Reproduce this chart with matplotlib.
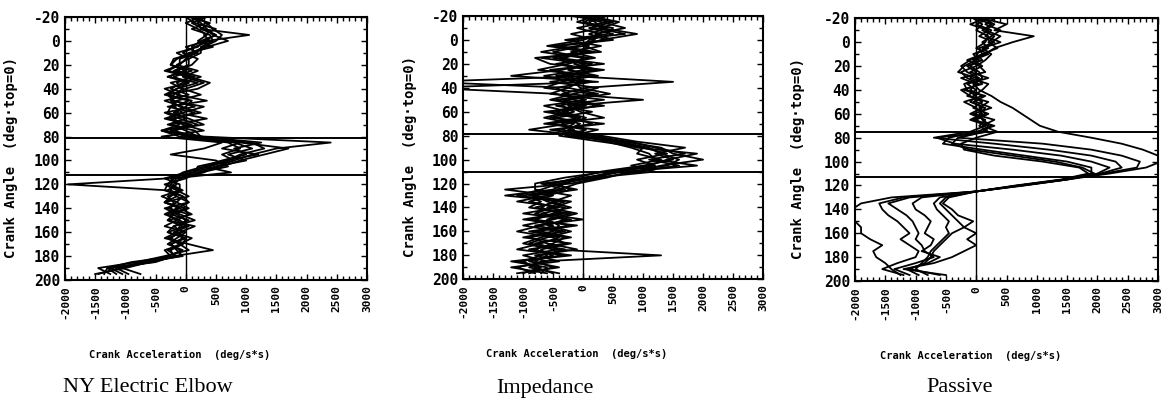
# Crank acceleration vs crank angle for three elbow control modes
import matplotlib
matplotlib.use('Agg')
import matplotlib.pyplot as plt
from matplotlib.ticker import MultipleLocator

crank_angle = [-20, -15, -10, -5, 0, 5, 10, 15, 20, 25, 30, 35, 40, 45, 50, 55,
               60, 65, 70, 75, 80, 85, 90, 95, 100, 105, 110, 115, 120, 125,
               130, 135, 140, 145, 150, 155, 160, 165, 170, 175, 180, 185, 190, 195]

x_ticks = [-2000, -1500, -1000, -500, 0, 500, 1000, 1500, 2000, 2500, 3000]
y_ticks = [-20, 0, 20, 40, 60, 80, 100, 120, 140, 160, 180, 200]

# NY Electric Elbow
elbow_1 = [200, 350, 450, 600, 500, 300, 100, -150, -250, 0, -300, 200,
           -150, -350, 50, -200, -50, -300, 100, -400, 300, 2400, 1500, 1100,
           800, 500, 100, -300, -1950, -300, -150, -350, 0, -250, 50, -200,
           -300, 0, -250, -100, -100, -600, -1100, -1450]
elbow_2 = [100, 250, 350, 450, 700, 350, 150, 0, -100, -350, 50, 400,
           200, -300, -200, 150, -350, -100, 200, -200, 150, 900, 1700, 1300,
           900, 600, 200, 0, -350, -150, 50, -350, -100, 100, -300, -50,
           -150, -350, 50, 450, -200, -500, -1250, -1050]
elbow_3 = [0, 150, 500, 300, 400, 150, -50, 200, 100, -150, 250, -50,
           -250, 50, -350, -50, -150, 350, -250, 0, 200, 1250, 800, 1000,
           600, 300, 750, -200, -300, -350, -50, -150, -300, 50, -150, -350,
           0, -150, -300, -50, -300, -750, -1050, -750]
elbow_4 = [300, 200, 250, 500, 300, 200, -150, 50, -150, 200, -50, 300,
           0, -150, 350, -300, 150, -200, -50, 300, -400, 600, 300, -250,
           500, 700, 250, -100, -200, -250, -50, 50, -150, -350, -100, 50,
           -200, 100, -100, -300, -150, -900, -1300, -1150]
elbow_5 = [250, 0, 200, 350, 200, 450, 50, -150, -250, 0, -300, 50,
           -350, -100, -250, 300, -50, -350, 50, -250, 0, 1100, 1300, 900,
           700, 400, 0, -350, -100, -100, -400, -150, 50, -200, -300, 150,
           -100, -250, -50, -350, -250, -600, -1000, -1500]
elbow_6 = [150, 350, 100, 400, 450, 250, 250, 50, 50, -200, 100, -150,
           -50, 250, -150, -250, -300, 50, 300, -400, 100, 800, 1100, 700,
           1000, 500, 300, -150, -250, -50, -300, -200, -250, -100, 150, -200,
           -50, -300, -100, 50, -350, -800, -1450, -1250]
elbow_7 = [350, 100, 300, 500, 250, 100, 150, -200, -250, 100, -200, 50,
           -150, -300, 100, 0, -200, 0, -300, 150, 250, 900, 600, 1200,
           650, 200, 150, -250, -150, -300, -150, 50, -350, -150, 0, -100,
           -150, -50, -250, -150, -50, -700, -1150, -950]
elbow_8 = [50, 400, 250, 1050, 350, 0, 200, -100, -100, -300, 150, -250,
           -50, -200, -250, -100, 250, -250, -100, -400, -100, 700, 900, 600,
           800, 300, -50, -200, -300, -100, -250, -350, -100, -300, -150, 0,
           -300, 0, -50, -250, -200, -550, -1300, -1350]

# Impedance
imped_1 = [100, 600, 300, 900, 300, 0, -500, 100, -250, -750, 150, -2600,
           -250, 250, -450, -50, -550, -150, 150, -450, -100, 500, 900, 1900,
           1400, 1100, 600, 200, -400, -700, -1100, -400, -800, -300, -900, -500,
           -700, -200, -800, -400, -1000, -600, -1100, -800]
imped_2 = [-100, 300, 700, 200, 500, -400, 200, -700, 50, -350, -1200, 250,
           -2600, -450, 50, -650, -250, -650, -150, -350, 200, 700, 1300, 1500,
           2000, 1300, 900, 300, -200, -1300, -500, -900, -400, -1000, -200, -700,
           -1100, -500, -300, -900, -200, -1100, -700, -1000]
imped_3 = [300, 0, 500, 400, -300, 300, -200, 200, -450, 150, -250, 1500,
           50, -350, 1000, -250, -50, 350, -550, 50, -300, 600, 1100, 1300,
           1600, 1400, 500, 100, -600, -100, -800, -600, -200, -700, 0, -800,
           -300, -900, -600, -100, -800, -400, -1200, -600]
imped_4 = [200, 400, -100, 300, 0, -600, 100, -400, 350, -550, 50, -350,
           -650, 150, -350, 250, -350, 50, -250, -900, 0, 400, 800, 1100,
           1200, 1900, 700, 0, -300, -500, -1300, -300, -600, -100, -500, -1000,
           -400, -700, -1000, -500, 1300, -700, -900, -400]
imped_5 = [0, 200, 300, -200, 200, -100, -700, 0, -150, 250, -450, -50,
           -250, -550, 350, -450, 150, -450, -50, -250, 300, 900, 1700, 1200,
           1500, 1000, 300, -100, -500, -200, -600, -1100, -300, -500, -800, -200,
           -900, -300, -500, -800, -500, -900, -400, -1100]
imped_6 = [400, 100, 200, 700, -200, 100, -100, -500, 150, -250, 250, -550,
           250, -150, -550, 50, -450, -50, -650, 250, -200, 800, 1200, 1700,
           1100, 1600, 800, 400, -100, -400, -1000, -700, -900, -200, -600, -400,
           -500, -1000, -200, -700, -600, -800, -500, -900]
imped_7 = [200, -100, 400, 100, 400, -500, 0, -300, -350, 50, -650, -150,
           -50, 450, -250, -350, -150, -550, 350, -550, 100, 600, 1000, 900,
           1300, 800, 1200, 200, -700, -300, -900, -200, -500, -800, -300, -600,
           -200, -600, -900, -300, -700, -1000, -800, -500]
imped_8 = [-200, 500, 100, 500, 100, 0, 300, -800, -550, 350, -350, 150,
           -450, -250, -150, 350, -650, -50, -350, -150, -400, 300, 1000, 1400,
           900, 1200, 400, -300, -800, -800, -200, -500, -700, -400, -1000, -100,
           -800, -400, -700, -1100, -300, -1200, -600, -700]

# Passive
passive_1 = [300, 150, 400, 250, 100, 200, -50, 50, -100, 50, 100, -50,
             50, 250, 400, 600, 750, 900, 1050, 1350, 1900, 2400, 2750, 3000,
             3050, 2800, 2200, 1500, 750, 0, -1400, -1900, -2050, -2050, -2000, -1900,
             -1900, -1750, -1550, -1700, -1650, -1500, -1400, -1250]
passive_2 = [100, 500, 300, 950, 600, 300, 150, -100, -250, -150, 50, -200,
             -150, 0, -100, 150, 50, 100, 250, 100, -300, 1100, 1900, 2400,
             2700, 2650, 2100, 1450, 700, 0, -1200, -1600, -1550, -1450, -1300, -1200,
             -1100, -1250, -1100, -950, -1000, -1300, -1550, -1200]
passive_3 = [0, 250, 100, 300, 200, 350, 100, 0, -200, -300, 0, 100,
             -250, -100, 100, -50, 200, 0, 150, -100, -700, 300, 1200, 1900,
             2300, 2400, 2050, 1500, 750, 0, -1100, -1450, -1300, -1150, -1050, -1000,
             -950, -1000, -900, -850, -700, -1000, -1350, -1100]
passive_4 = [200, 0, 250, 150, 400, 100, 250, 150, 0, -250, -150, 50,
             -200, 150, -50, 100, -100, 150, 50, 200, -650, -350, 600, 1400,
             1900, 2200, 2000, 1500, 800, 0, -900, -1050, -1000, -850, -750, -800,
             -850, -700, -750, -900, -600, -800, -1150, -950]
passive_5 = [-50, 100, 0, 200, 150, 0, 200, -50, 100, -100, 200, -150,
             0, -150, 200, 50, 150, -50, 300, 0, -450, -550, 100, 800,
             1500, 1900, 1900, 1450, 700, 0, -600, -700, -650, -550, -450, -500,
             -450, -550, -650, -750, -800, -900, -1000, -800]
passive_6 = [100, 300, 150, 400, 250, 150, 0, 100, -150, 0, -100, 200,
             100, -50, 0, 250, -50, 300, 100, 350, 0, -250, -200, 300,
             1100, 1700, 1850, 1400, 650, 0, -450, -550, -400, -300, -50, -200,
             -400, -500, -600, -700, -750, -850, -1100, -600]
passive_7 = [150, -100, 200, 50, 300, 50, 100, -150, 50, 150, -250, 0,
             -100, 100, -200, 0, 100, -100, 200, 150, -300, -400, -100, 600,
             1300, 1750, 1950, 1450, 700, 0, -500, -600, -500, -400, -300, -200,
             0, -150, 0, -200, -400, -700, -1200, -500]

elbow_marks = [81, 112]
imped_marks = [79, 110]
passive_marks = [75, 113]

mono = 'DejaVu Sans Mono'


def draw_panel(ax, traces, marks):
    for tr in traces:
        ax.plot(tr, crank_angle, color='black', lw=1.3, solid_joinstyle='round')
    for m in marks:
        ax.axhline(m, color='black', lw=1.4)
    ax.axvline(0, color='black', lw=1.0)
    ax.set_xlim(-2000, 3000)
    ax.set_ylim(200, -20)
    ax.set_xticks(x_ticks)
    ax.set_yticks(y_ticks)
    ax.xaxis.set_minor_locator(MultipleLocator(100))
    ax.yaxis.set_minor_locator(MultipleLocator(10))
    ax.tick_params(which='both', direction='in', top=True, right=True, width=1.0)
    ax.tick_params(which='major', length=4)
    ax.tick_params(which='minor', length=3)
    ax.set_xticklabels([str(v) for v in x_ticks], rotation=90, family=mono,
                       fontweight='bold', fontsize=8)
    ax.set_yticklabels([str(v) for v in y_ticks], family=mono,
                       fontweight='bold', fontsize=10.5)
    for s in ax.spines.values():
        s.set_linewidth(1.5)
    ax.set_ylabel('Crank Angle  (deg\u00b7top=0)', family=mono,
                  fontweight='bold', fontsize=10)
    ax.set_xlabel('Crank Acceleration  (deg/s*s)', family=mono,
                  fontweight='bold', fontsize=7.5)


fig = plt.figure(figsize=(11.62, 4.17), dpi=100)

ax1 = fig.add_axes([0.0559, 0.3285, 0.2599, 0.6307])
ax2 = fig.add_axes([0.3985, 0.3302, 0.2582, 0.6314])
ax3 = fig.add_axes([0.7358, 0.3261, 0.2608, 0.6300])

draw_panel(ax1, [elbow_1, elbow_2, elbow_3, elbow_4, elbow_5, elbow_6, elbow_7, elbow_8], elbow_marks)
draw_panel(ax2, [imped_1, imped_2, imped_3, imped_4, imped_5, imped_6, imped_7, imped_8], imped_marks)
draw_panel(ax3, [passive_1, passive_2, passive_3, passive_4, passive_5, passive_6, passive_7], passive_marks)

ax1.yaxis.set_label_coords(-0.156, 0.466)
ax2.yaxis.set_label_coords(-0.154, 0.466)
ax3.yaxis.set_label_coords(-0.165, 0.466)
for ax in (ax1, ax2, ax3):
    ax.xaxis.set_label_coords(0.38, -0.266)

titles = ['NY Electric Elbow', 'Impedance', 'Passive']
title_x = [148, 545, 960]
for t, xp in zip(titles, title_x):
    fig.text(xp / 1162, 1 - 388 / 417, t, family='Liberation Serif',
             fontsize=16, ha='center', va='center')

fig.savefig('out.png', dpi=100)
